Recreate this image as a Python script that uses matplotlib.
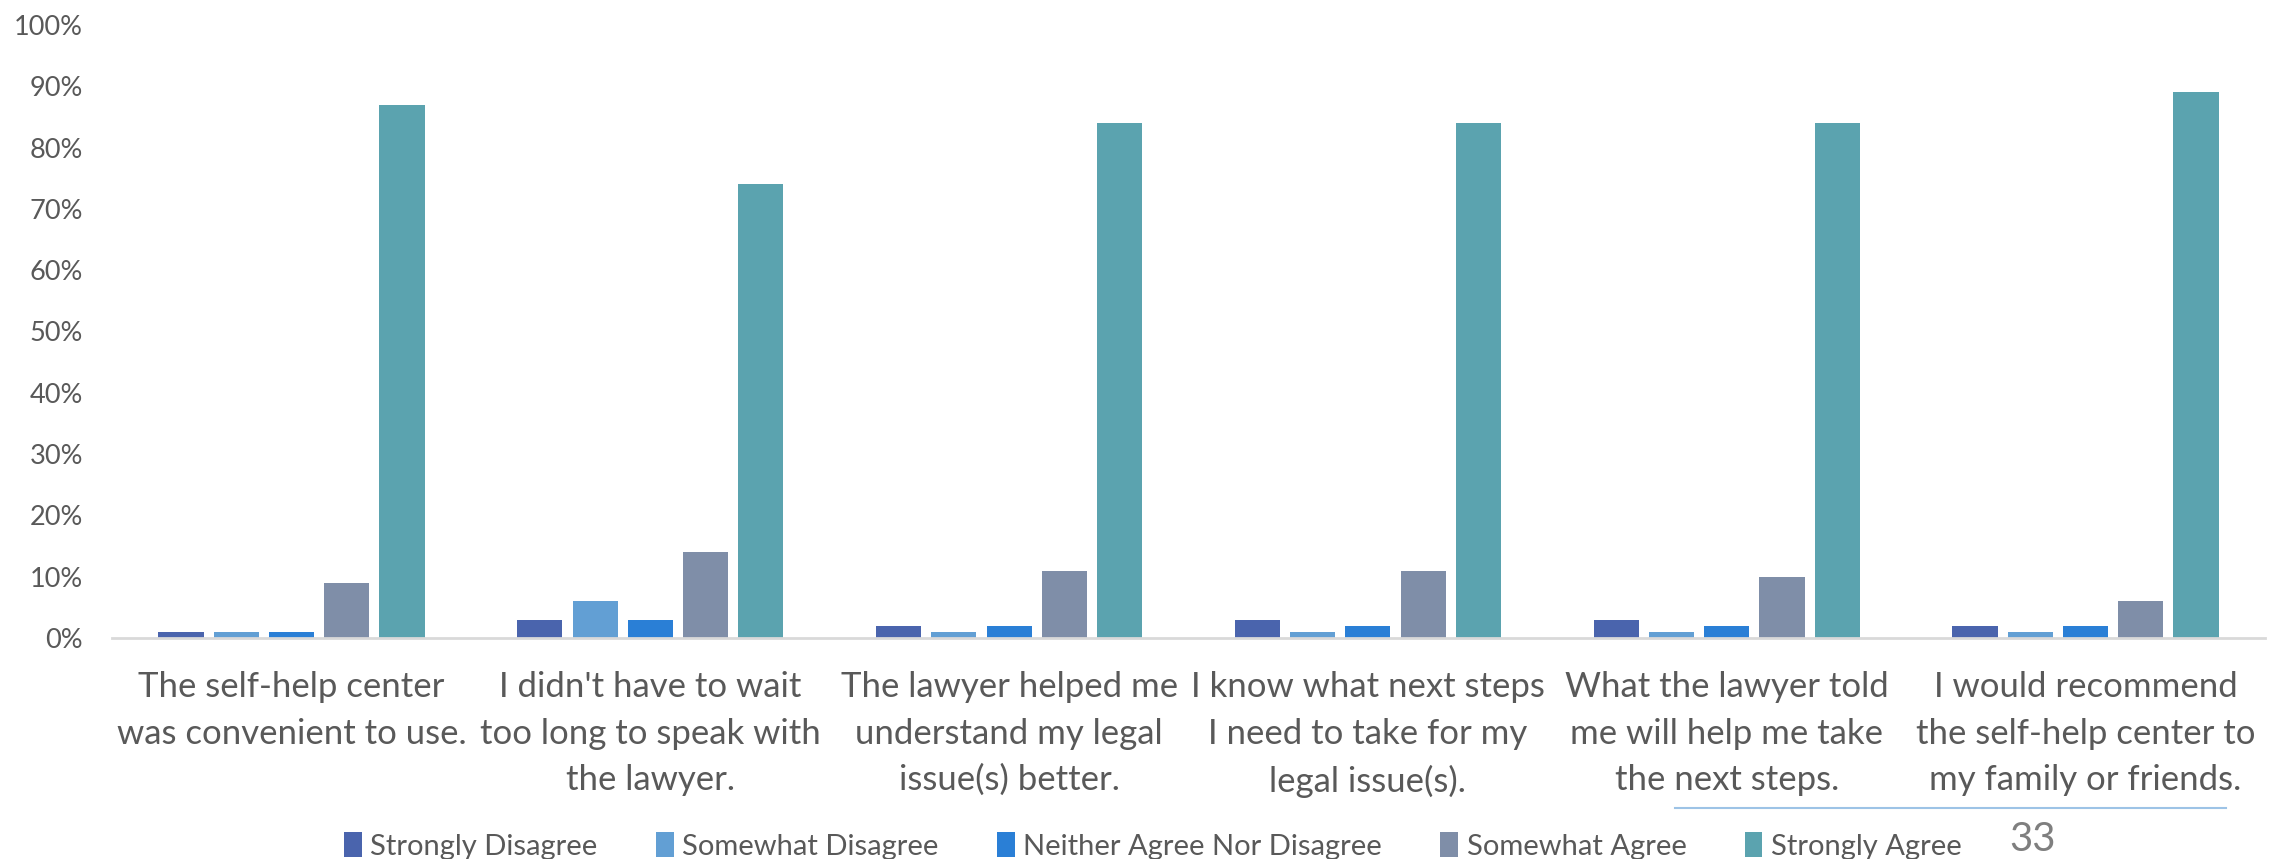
import matplotlib
matplotlib.use("Agg")
import matplotlib.pyplot as plt
import numpy as np
from matplotlib.lines import Line2D

plt.rcParams['font.family'] = ['Lato', 'DejaVu Sans']

categories = [
    "The self-help center\nwas convenient to use.",
    "I didn't have to wait\ntoo long to speak with\nthe lawyer.",
    "The lawyer helped me\nunderstand my legal\nissue(s) better.",
    "I know what next steps\nI need to take for my\nlegal issue(s).",
    "What the lawyer told\nme will help me take\nthe next steps.",
    "I would recommend\nthe self-help center to\nmy family or friends.",
]
series_names = ["Strongly Disagree", "Somewhat Disagree", "Neither Agree Nor Disagree",
                "Somewhat Agree", "Strongly Agree"]
strongly_disagree = [1, 3, 2, 3, 3, 2]
somewhat_disagree = [1, 6, 1, 1, 1, 1]
neither = [1, 3, 2, 2, 2, 2]
somewhat_agree = [9, 14, 11, 11, 10, 6]
strongly_agree = [87, 74, 84, 84, 84, 89]
series_values = [strongly_disagree, somewhat_disagree, neither, somewhat_agree, strongly_agree]
colors = ["#4A64AD", "#629FD4", "#2A7FD6", "#7F8EA8", "#5BA3AF"]
yticks = list(range(0, 101, 10))

text_color = "#595959"

fig = plt.figure(figsize=(22.9, 8.59), dpi=100)
ax = fig.add_axes([0.049, 0.2573, 0.940, 0.7137])

x = np.arange(len(categories))
step = 0.154
width = 0.126
for j, (name, vals, c) in enumerate(zip(series_names, series_values, colors)):
    ax.bar(x + (j - 2) * step, vals, width=width, color=c, label=name, zorder=2)

ax.set_xlim(-0.5, len(categories) - 0.5)
ax.set_ylim(0, 100)
ax.set_yticks(yticks)
ax.set_yticklabels([f"{v}%" for v in yticks], fontsize=19.5, color=text_color)
ax.set_xticks(x)
ax.set_xticklabels(categories, fontsize=25, color=text_color, linespacing=1.55)
ax.tick_params(axis='x', length=0, pad=24)
ax.tick_params(axis='y', length=0, pad=21)

for s in ['top', 'right', 'left']:
    ax.spines[s].set_visible(False)
ax.spines['bottom'].set_color("#D9D9D9")
ax.spines['bottom'].set_linewidth(2)

fig.legend(loc='center', bbox_to_anchor=(0.5035, 1 - 846 / 859), ncol=5, frameon=False,
           fontsize=21, labelcolor=text_color, handlelength=0.6, handleheight=0.9,
           handletextpad=0.3, columnspacing=2.0, borderpad=0)

# page footer: rule and page number
fig.add_artist(Line2D([1675 / 2290, 2226 / 2290], [1 - 808 / 859, 1 - 808 / 859],
                      color="#9DC3E6", linewidth=1.5, transform=fig.transFigure))
fig.text(2033 / 2290, 0.001, "33", fontsize=29, color="#7F7F7F",
         ha='center', va='bottom')

fig.savefig("out.png", dpi=100)
